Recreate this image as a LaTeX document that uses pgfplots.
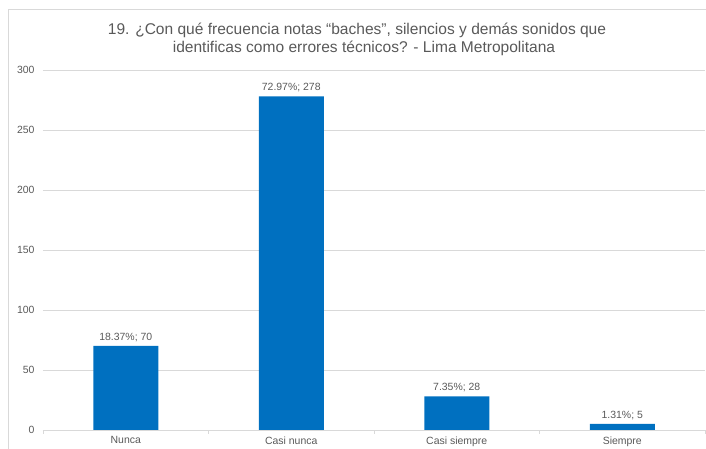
\documentclass[border=0pt]{standalone}
\usepackage{pgfplots}
\usepackage{pgfplotstable}
\pgfplotsset{compat=1.18}
\usepackage{fontspec}
\setmainfont{Liberation Sans}
\definecolor{barblue}{HTML}{0070C0}
\definecolor{txt}{HTML}{595959}
\definecolor{gridc}{HTML}{D9D9D9}
\pgfplotstableread[col sep=comma]{
x,y,pct
0,70,18.37
1,278,72.97
2,28,7.35
3,5,1.31
}\datatable
\begin{document}
\begin{tikzpicture}[x=1bp,y=1bp]
\useasboundingbox (-43,-19) rectangle (663,430);
\draw[gridc,line width=0.8bp] (-35,-19) -- (-35,421) -- (663,421);
\node[anchor=base,text=txt,font=\fontsize{15.6}{18}\selectfont] at (314,395)
  {19. ¿Con qué frecuencia notas “baches”, silencios y demás sonidos que};
\node[anchor=base,text=txt,font=\fontsize{15.6}{18}\selectfont] at (321,377)
  {identificas como errores técnicos? - Lima Metropolitana};
\begin{axis}[
  at={(0,0)}, anchor=south west,
  scale only axis, width=662bp, height=360bp,
  xmin=-0.5, xmax=3.5, ymin=0, ymax=300,
  ytick={0,50,...,300},
  xtick={0,1,2,3},
  xticklabels={Nunca,Casi nunca,Casi siempre,Siempre},
  minor xtick={-0.5,0.5,1.5,2.5,3.5},
  major tick length=0pt,
  minor tick length=4bp,
  tick align=outside,
  axis lines*=left,
  axis line style={draw=gridc,line width=0.8bp},
  y axis line style={draw=none},
  ymajorgrids,
  major grid style={draw=gridc,line width=0.8bp},
  minor tick style={draw=gridc,line width=0.8bp},
  ticklabel style={font=\fontsize{10.5}{12}\selectfont,text=txt},
  /pgf/number format/assume math mode=true,
  yticklabel style={xshift=-5bp},
  xticklabel style={yshift=-3bp},
  ybar, bar width=65bp,
  point meta=explicit symbolic,
  nodes near coords={\pgfplotspointmeta\%; \pgfmathprintnumber[fixed,precision=0]{\pgfkeysvalueof{/data point/y}}},
  every node near coord/.append style={font=\fontsize{10.5}{12}\selectfont,text=txt,yshift=1bp},
  clip=false,
]
\addplot[fill=barblue,draw=none] table[x=x,y=y,meta=pct] {\datatable};
\end{axis}
\end{tikzpicture}
\end{document}
